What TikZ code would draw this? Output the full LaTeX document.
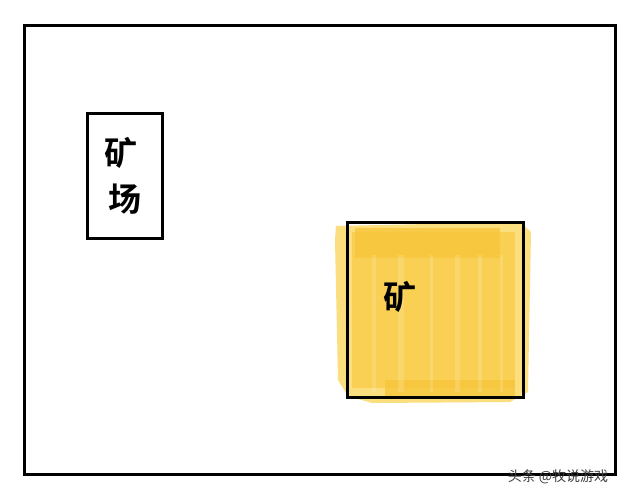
\documentclass[tikz,border=0pt]{standalone}
\usepackage{fontspec}
\newfontfamily\cjk{Noto Sans CJK SC}
\newfontfamily\cjkbold{Noto Sans CJK SC Bold}
\definecolor{paintlight}{RGB}{251,222,125}
\definecolor{paintmid}{RGB}{249,208,84}
\definecolor{paintdeep}{RGB}{247,198,58}
\begin{document}
\begin{tikzpicture}[x=1pt,y=-1pt,
  frame/.style={draw=black,line width=3pt},
  hand/.style={font=\cjkbold\fontsize{33}{36}\selectfont,inner sep=0pt}]
\useasboundingbox[fill=white] (0,0) rectangle (632,500);
% yellow paint
\fill[paintlight] (336,226) -- (520,222) -- (531,232) -- (528,392) -- (510,402) -- (372,403) -- (348,396) -- (338,380) -- (335,240) -- cycle;
\fill[paintmid] (352,232) rectangle (515,388);
\fill[paintdeep,opacity=0.8] (355,228) rectangle (500,258);
\fill[paintdeep,opacity=0.8] (385,380) rectangle (515,396);
\foreach \xx/\ww in {372/4,398/6,430/3,455/5,478/4,500/3}
  \fill[white,opacity=0.15] (\xx,255) rectangle (\xx+\ww,392);
% frames
\node[frame,minimum width=591pt,minimum height=449pt,inner sep=0pt] (outer) at (320,250) {};
\node[frame,minimum width=75pt,minimum height=124pt,inner sep=0pt] (mine) at (124.5,176) {};
\node[frame,minimum width=176pt,minimum height=175pt,inner sep=0pt] (ore) at (435.5,309.5) {};
% texts
\node[hand] (t1) at (121,153) {矿};
\node[hand] (t2) at (125,199) {场};
\node[hand] (t3) at (400,297) {矿};
\node[font=\cjk\fontsize{14}{15}\selectfont,text=black!75,inner sep=1pt] (wm) at (558,477) {头条 @牧说游戏};
\end{tikzpicture}
\end{document}
